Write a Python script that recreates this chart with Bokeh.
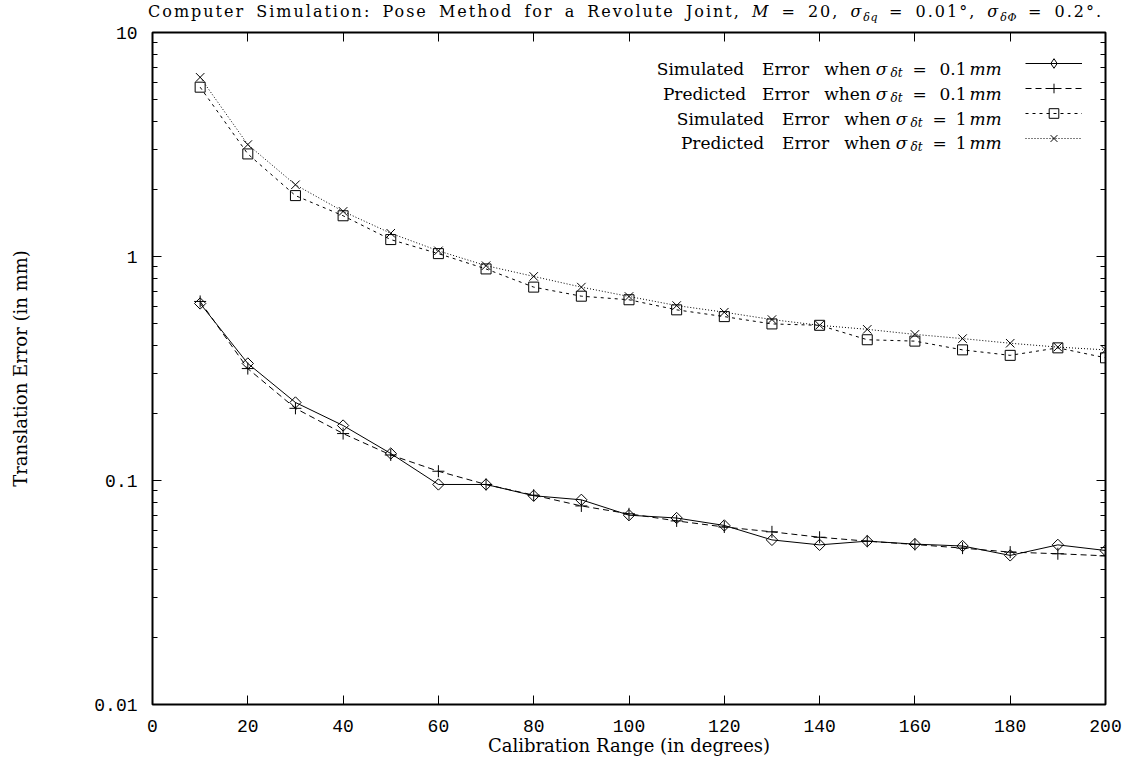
import numpy as np
from bokeh.plotting import figure
from bokeh.layouts import column
from bokeh.models import (Range1d, LinearAxis, LogAxis, FixedTicker, CustomJSTickFormatter,
                          Label, Legend, LegendItem, Div)
from bokeh.embed import file_html
from bokeh.resources import INLINE

# ---------------- data ----------------
calib_range = [10, 20, 30, 40, 50, 60, 70, 80, 90, 100,
               110, 120, 130, 140, 150, 160, 170, 180, 190, 200]
sim_err_01 = [0.617, 0.333, 0.223, 0.176, 0.132, 0.096, 0.096, 0.0855, 0.082, 0.070,
              0.068, 0.063, 0.0543, 0.0516, 0.0536, 0.052, 0.051, 0.0463, 0.0516, 0.0487]
pred_err_01 = [0.63, 0.316, 0.21, 0.162, 0.13, 0.110, 0.096, 0.086, 0.077, 0.071,
               0.066, 0.062, 0.059, 0.0558, 0.0536, 0.0518, 0.0499, 0.0479, 0.0471, 0.0461]
sim_err_1 = [5.70, 2.87, 1.87, 1.52, 1.19, 1.03, 0.88, 0.73, 0.665, 0.641,
             0.578, 0.539, 0.500, 0.493, 0.425, 0.419, 0.383, 0.362, 0.391, 0.353]
pred_err_1 = [6.31, 3.16, 2.09, 1.59, 1.27, 1.06, 0.91, 0.815, 0.73, 0.663,
              0.604, 0.564, 0.523, 0.493, 0.473, 0.449, 0.430, 0.410, 0.394, 0.383]
x_ticks = [0, 20, 40, 60, 80, 100, 120, 140, 160, 180, 200]
y_ticks = [0.01, 0.1, 1, 10]
y_minor = [m * d for d in (0.01, 0.1, 1) for m in range(2, 10)]

# ---------------- layout constants ----------------
W, H = 1132, 765
TITLE_H = 24
FL, FR, FT, FB = 152, 1105, 32, 704     # frame edges in page pixels
XMIN, XMAX = 0, 200
YMIN, YMAX = 0.01, 10

SERIF = "DejaVu Serif"
MONO = "Liberation Mono"

def dx(px):
    return XMIN + (px - FL) / (FR - FL) * (XMAX - XMIN)

def dy(py):
    return 10 ** (np.log10(YMIN) + (FB - py) / (FB - FT) * (np.log10(YMAX) - np.log10(YMIN)))

PH = H - TITLE_H
p = figure(width=W, height=PH, x_range=Range1d(XMIN, XMAX), y_range=Range1d(YMIN, YMAX),
           y_axis_type="log", output_backend="svg", toolbar_location=None,
           min_border_left=FL, min_border_right=W - FR, min_border_top=FT - TITLE_H,
           min_border_bottom=H - FB, margin=0)
p.title.visible = False
p.grid.visible = False
p.background_fill_color = "white"
p.border_fill_color = "white"
p.outline_line_color = "black"
p.outline_line_width = 2

xt = FixedTicker(ticks=x_ticks, minor_ticks=[])
yt = FixedTicker(ticks=y_ticks, minor_ticks=y_minor)
yfmt = CustomJSTickFormatter(code="return tick.toString();")
blank = CustomJSTickFormatter(code="return '';")

def style_axis(ax, labels):
    ax.axis_line_color = None
    ax.major_tick_in = 9
    ax.major_tick_out = 0
    ax.minor_tick_in = 5
    ax.minor_tick_out = 0
    ax.major_tick_line_color = "black"
    ax.minor_tick_line_color = "black"
    ax.major_tick_line_width = 1
    ax.minor_tick_line_width = 1
    ax.major_label_standoff = 15 if labels else 0
    ax.major_label_text_font = MONO
    ax.major_label_text_font_size = "18px"
    ax.major_label_text_color = "black"
    ax.axis_label_text_font = SERIF
    ax.axis_label_text_font_size = "18px"
    ax.axis_label_text_font_style = "normal"
    ax.axis_label_text_color = "black"

for ax in p.xaxis:
    ax.ticker = xt
    style_axis(ax, True)
    ax.axis_label = "Calibration Range (in degrees)"
    ax.axis_label_standoff = 0
for ax in p.yaxis:
    ax.ticker = yt
    ax.formatter = yfmt
    style_axis(ax, True)
    ax.axis_label = "Translation Error (in mm)"
    ax.axis_label_standoff = 60

top = LinearAxis(ticker=xt, formatter=blank)
style_axis(top, False)
p.add_layout(top, "above")
right = LogAxis(ticker=yt, formatter=blank)
style_axis(right, False)
p.add_layout(right, "right")

# ---------------- series ----------------
l1 = p.line(calib_range, sim_err_01, line_color="black", line_width=1)
s1 = p.scatter(calib_range, sim_err_01, marker="square", angle=np.pi / 4, size=8,
               fill_color=None, line_color="black", line_width=1)
l2 = p.line(calib_range, pred_err_01, line_color="black", line_width=1, line_dash="6 4")
s2 = p.scatter(calib_range, pred_err_01, marker="cross", size=12,
               line_color="black", line_width=1)
l3 = p.line(calib_range, sim_err_1, line_color="black", line_width=1, line_dash="3 4")
s3 = p.scatter(calib_range, sim_err_1, marker="square", size=10,
               fill_color=None, line_color="black", line_width=1)
l4 = p.line(calib_range, pred_err_1, line_color="black", line_width=1, line_dash="1 2")
s4 = p.scatter(calib_range, pred_err_1, marker="x", size=12,
               line_color="black", line_width=1)

# hidden twin of the diamond series, used only for its legend symbol
d_leg = p.scatter(calib_range, sim_err_01, marker="diamond", size=12, fill_color=None,
                  line_color="black", line_width=1, visible=False)

legend = Legend(items=[LegendItem(label="", renderers=[l1, d_leg]),
                       LegendItem(label="", renderers=[l2, s2]),
                       LegendItem(label="", renderers=[l3, s3]),
                       LegendItem(label="", renderers=[l4, s4])],
                location=(873, 554), glyph_width=57, glyph_height=24, spacing=1,
                padding=0, margin=0, label_standoff=0, label_width=0, label_height=0,
                border_line_color=None, background_fill_alpha=0,
                inactive_fill_alpha=0, click_policy="none",
                label_text_font_size="1px")
p.add_layout(legend)

# ---------------- legend texts ----------------
def add_text(text, px, py, size=17, style="normal", align="center"):
    p.add_layout(Label(x=dx(px), y=dy(py), text=text, text_font=SERIF,
                       text_font_size=f"{size}px", text_font_style=style,
                       text_align=align, text_baseline="alphabetic",
                       text_color="black"))

legend_rows = [
    (68, [("Simulated", 700), ("Error", 785), ("when", 847)], 881, 896, 919, "0.1"),
    (93, [("Predicted", 704), ("Error", 785), ("when", 847)], 881, 896, 919, "0.1"),
    (118, [("Simulated", 720), ("Error", 805), ("when", 867)], 901, 916, 939, "1"),
    (142, [("Predicted", 722), ("Error", 805), ("when", 867)], 901, 916, 939, "1"),
]
for base, words, sig_x, sub_x, eq_x, val in legend_rows:
    for w, cx in words:
        add_text(w, cx, base)
    add_text("σ", sig_x, base, style="italic")
    add_text("δt", sub_x, base + 4, size=12, style="italic")
    add_text("=", eq_x, base)
    add_text(val, 966, base, align="right")
    add_text("mm", 969, base, style="italic", align="left")

# ---------------- title (HTML, so that subscripts can be typeset) ----------------
sub = '<sub style="font-size:11px; vertical-align:-4px; line-height:0; letter-spacing:0.5px;"><i>{}</i></sub>'
title_html = (
    '<div style="width:955px; margin-left:148px; font-family:\'DejaVu Serif\'; '
    'font-size:16px; line-height:24px; letter-spacing:2px; text-align:justify; '
    'text-align-last:justify; white-space:nowrap; color:black;">'
    'Computer Simulation: Pose Method for a Revolute Joint, '
    '<i>M</i> = 20, <i>σ</i>' + sub.format('δq') + ' = 0.01°, '
    '<i>σ</i>' + sub.format('δΦ') + ' = 0.2°.</div>'
)
title = Div(text=title_html, width=W, height=TITLE_H, margin=0)

layout = column(title, p, spacing=0, margin=0)
open("out.html", "w").write(file_html(layout, INLINE))
